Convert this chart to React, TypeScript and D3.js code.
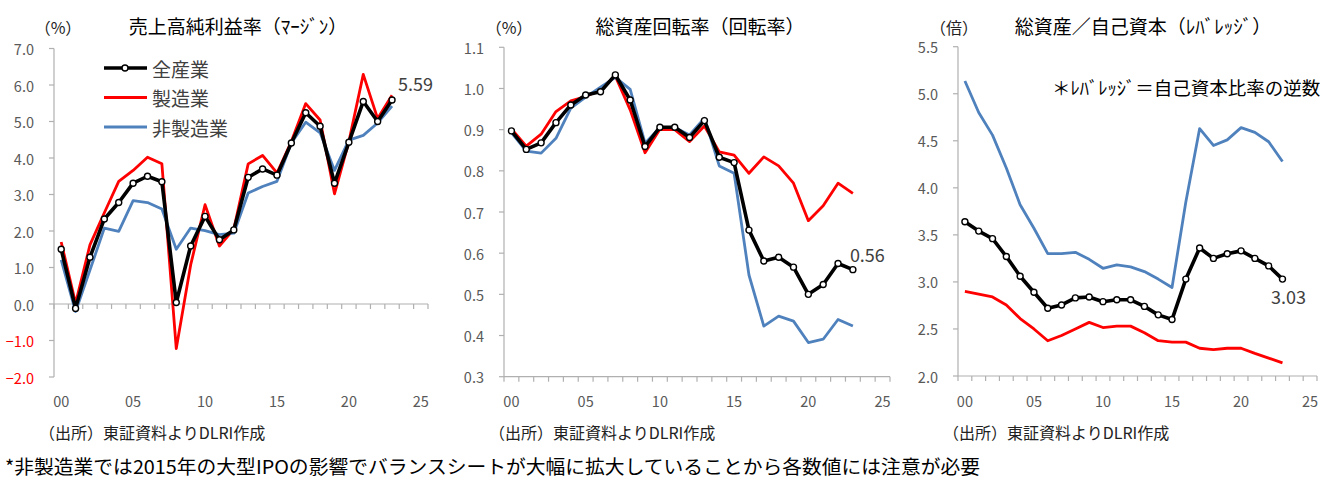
import React from 'react';
import * as d3 from 'd3';

// fiscal years on the category axis (00 = 2000)
const YEARS = ['00', '01', '02', '03', '04', '05', '06', '07', '08', '09', '10', '11', '12',
  '13', '14', '15', '16', '17', '18', '19', '20', '21', '22', '23', '24', '25'];
const YEAR_LABELS = ['00', '05', '10', '15', '20', '25'];

const SERIES_NAMES = ['全産業', '製造業', '非製造業'];

// 売上高純利益率 (%)
const marginAll = [1.50, -0.12, 1.28, 2.33, 2.78, 3.31, 3.50, 3.35, 0.04, 1.59, 2.40, 1.76, 2.03,
  3.47, 3.70, 3.53, 4.41, 5.24, 4.87, 3.31, 4.43, 5.55, 5.00, 5.59];
const marginMfg = [1.70, 0.02, 1.62, 2.50, 3.36, 3.66, 4.02, 3.84, -1.22, 1.07, 2.72, 1.59, 2.05,
  3.84, 4.07, 3.59, 4.45, 5.49, 5.04, 3.02, 4.45, 6.29, 5.08, 5.72];
const marginNonMfg = [1.21, -0.21, 0.93, 2.08, 1.99, 2.83, 2.78, 2.60, 1.50, 2.08, 2.01, 1.90, 1.94,
  3.04, 3.22, 3.36, 4.41, 4.98, 4.69, 3.66, 4.49, 4.62, 4.96, 5.42];

// 総資産回転率
const turnAll = [0.897, 0.852, 0.868, 0.917, 0.960, 0.984, 0.992, 1.033, 0.972, 0.859, 0.906, 0.906, 0.881,
  0.922, 0.833, 0.820, 0.656, 0.581, 0.590, 0.566, 0.500, 0.524, 0.575, 0.56];
const turnMfg = [0.902, 0.860, 0.889, 0.944, 0.970, 0.980, 0.998, 1.030, 0.948, 0.844, 0.901, 0.900, 0.871,
  0.909, 0.846, 0.838, 0.794, 0.834, 0.812, 0.770, 0.679, 0.715, 0.770, 0.745];
const turnNonMfg = [0.893, 0.848, 0.843, 0.879, 0.952, 0.979, 1.003, 1.027, 0.998, 0.867, 0.905, 0.905, 0.887,
  0.928, 0.812, 0.794, 0.547, 0.423, 0.447, 0.435, 0.383, 0.391, 0.439, 0.423];

// 総資産／自己資本 (倍)
const levAll = [3.64, 3.54, 3.46, 3.27, 3.06, 2.89, 2.72, 2.755, 2.83, 2.84, 2.79, 2.81, 2.81,
  2.74, 2.65, 2.60, 3.03, 3.36, 3.25, 3.30, 3.33, 3.25, 3.17, 3.03];
const levMfg = [2.90, 2.87, 2.84, 2.755, 2.61, 2.50, 2.375, 2.43, 2.50, 2.57, 2.515, 2.53, 2.53,
  2.46, 2.375, 2.36, 2.36, 2.295, 2.28, 2.295, 2.295, 2.24, 2.19, 2.14];
const levNonMfg = [5.135, 4.80, 4.56, 4.21, 3.82, 3.57, 3.30, 3.30, 3.315, 3.24, 3.145, 3.18, 3.16,
  3.11, 3.03, 2.94, 3.85, 4.63, 4.45, 4.51, 4.64, 4.59, 4.49, 4.28];

const FONT = "'Noto Sans CJK JP', 'Noto Sans', sans-serif";
const AXIS = '#b0b0b0';
const TICK_TEXT = '#595959';
const RED = '#ff0000';
const BLUE = '#4f81bd';

type PanelProps = {
  x0: number; x1: number; top: number; bottom: number;
  domain: [number, number]; tickCount: number; xAxisAt: number;
  all: number[]; mfg: number[]; nonMfg: number[];
  title: string; titleX: number; unit: string; unitX: number;
  lastLabel: string; lastDx: number; lastDy: number; lastAnchor: string;
  showLegend?: boolean;
};

function Panel(p: PanelProps) {
  const x = d3.scaleBand<string>().domain(YEARS).range([p.x0, p.x1]).padding(0);
  const cx = (i: number) => (x(YEARS[i]) as number) + x.bandwidth() / 2;
  const y = d3.scaleLinear().domain(p.domain).range([p.bottom, p.top]);
  const line = d3.line<number>().x((_, i) => cx(i)).y((d) => y(d));
  const axisY = y(p.xAxisAt);
  const yTicks = y.ticks(p.tickCount);
  const tickEdges = YEARS.map((yr) => x(yr) as number).concat([p.x1]);
  const last = p.all.length - 1;

  return (
    <g>
      <text x={p.titleX} y={25} textAnchor="middle" dominantBaseline="central"
        fontSize={19} fill="#000">{p.title}</text>
      <text x={p.unitX} y={27} textAnchor="middle" dominantBaseline="central"
        fontSize={16} fill="#222">{p.unit}</text>

      {/* value axis */}
      <line x1={p.x0} x2={p.x0} y1={p.top} y2={p.bottom} stroke={AXIS} strokeWidth={1.2} />
      {yTicks.map((t) => (
        <g key={t}>
          <line x1={p.x0 - 5} x2={p.x0} y1={y(t)} y2={y(t)} stroke={AXIS} strokeWidth={1.2} />
          <text x={p.x0 - 20} y={y(t)} textAnchor="end" dominantBaseline="central"
            fontSize={14.5} fill={t < 0 ? RED : TICK_TEXT}>{d3.format('.1f')(t)}</text>
        </g>
      ))}

      {/* category axis */}
      <line x1={p.x0} x2={p.x1} y1={axisY} y2={axisY} stroke={AXIS} strokeWidth={1.2} />
      {tickEdges.map((t, i) => (
        <line key={i} x1={t} x2={t} y1={axisY} y2={axisY + 5} stroke={AXIS} strokeWidth={1.2} />
      ))}
      {YEAR_LABELS.map((lb) => (
        <text key={lb} x={(x(lb) as number) + x.bandwidth() / 2} y={400} textAnchor="middle"
          dominantBaseline="central" fontSize={14.5} fill={TICK_TEXT}>{lb}</text>
      ))}

      <path d={line(p.mfg) ?? ''} fill="none" stroke={RED} strokeWidth={2.8} strokeLinejoin="round" />
      <path d={line(p.nonMfg) ?? ''} fill="none" stroke={BLUE} strokeWidth={2.8} strokeLinejoin="round" />
      <path d={line(p.all) ?? ''} fill="none" stroke="#000" strokeWidth={3.6} strokeLinejoin="round" />
      {p.all.map((d, i) => (
        <circle key={i} cx={cx(i)} cy={y(d)} r={3} fill="#fff" stroke="#000" strokeWidth={1.4} />
      ))}
      <text x={cx(last) + p.lastDx} y={y(p.all[last]) + p.lastDy} textAnchor={p.lastAnchor}
        dominantBaseline="central" fontSize={18} fill="#404040">{p.lastLabel}</text>

      {p.showLegend && SERIES_NAMES.map((name, i) => {
        const ly = 68 + i * 29.5;
        const color = ['#000', RED, BLUE][i];
        return (
          <g key={name}>
            <line x1={104} x2={147} y1={ly} y2={ly} stroke={color} strokeWidth={i === 0 ? 3.6 : 2.8} />
            {i === 0 && <circle cx={125} cy={ly} r={3} fill="#fff" stroke="#000" strokeWidth={1.4} />}
            <text x={152} y={ly} dominantBaseline="central" fontSize={19} fill="#404040">{name}</text>
          </g>
        );
      })}

      <text x={p.x0 - 15} y={432} dominantBaseline="central" fontSize={16} fill="#222">
        （出所）東証資料よりDLRI作成
      </text>
    </g>
  );
}

export default function App() {
  return (
    <svg width={1328} height={477} style={{ position: 'absolute', left: 0, top: 0, background: '#fff' }}
      fontFamily={FONT}>
      <Panel x0={54} x1={428} top={48.5} bottom={377} domain={[-2, 7]} tickCount={9} xAxisAt={0}
        all={marginAll} mfg={marginMfg} nonMfg={marginNonMfg}
        title="売上高純利益率（ﾏｰｼﾞﾝ）" titleX={238} unit="（%）" unitX={58}
        lastLabel="5.59" lastDx={6} lastDy={-17} lastAnchor="start" showLegend />
      <Panel x0={504} x1={890} top={47.3} bottom={376.7} domain={[0.3, 1.1]} tickCount={8} xAxisAt={0.3}
        all={turnAll} mfg={turnMfg} nonMfg={turnNonMfg}
        title="総資産回転率（回転率）" titleX={700} unit="（%）" unitX={509}
        lastLabel="0.56" lastDx={-3} lastDy={-16} lastAnchor="start" />
      <Panel x0={958} x1={1317} top={46.7} bottom={376} domain={[2, 5.5]} tickCount={7} xAxisAt={2}
        all={levAll} mfg={levMfg} nonMfg={levNonMfg}
        title="総資産／自己資本（ﾚﾊﾞﾚｯｼﾞ）" titleX={1143} unit="（倍）" unitX={954}
        lastLabel="3.03" lastDx={6} lastDy={17} lastAnchor="middle" />
      <text x={1052} y={87} dominantBaseline="central" fontSize={18.5} fill="#000">＊ﾚﾊﾞﾚｯｼﾞ＝自己資本比率の逆数</text>
      <text x={5} y={465} dominantBaseline="central" fontSize={19} fill="#000"
        textLength={975} lengthAdjust="spacingAndGlyphs">
        *非製造業では2015年の大型IPOの影響でバランスシートが大幅に拡大していることから各数値には注意が必要
      </text>
    </svg>
  );
}
